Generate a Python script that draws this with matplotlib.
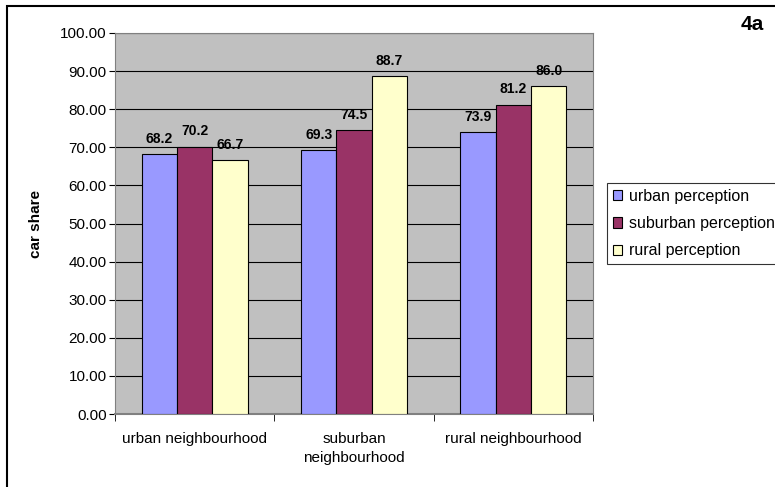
import matplotlib
matplotlib.use('Agg')
import numpy as np
import matplotlib.pyplot as plt
from matplotlib.patches import Rectangle

plt.rcParams['font.family'] = ['Liberation Sans', 'DejaVu Sans']

categories = ['urban neighbourhood', 'suburban\nneighbourhood', 'rural neighbourhood']
series_names = ['urban perception', 'suburban perception', 'rural perception']
urban_perc = [68.2, 69.3, 73.9]
suburban_perc = [70.2, 74.5, 81.2]
rural_perc = [66.7, 88.7, 86.0]
colors = ['#9999FF', '#993366', '#FFFFCC']

fig = plt.figure(figsize=(7.75, 4.87), dpi=100)
ax = fig.add_axes([115/775, 1 - 414/487, (593 - 115)/775, (414 - 33)/487])

# outer chart frame (runs off the right and bottom edges)
fig.patches.append(Rectangle((7/775, -0.1), 1.2, 1 - 6/487 + 0.1,
                             transform=fig.transFigure, fill=False,
                             edgecolor='black', linewidth=1.5))

x = np.arange(len(categories))
w = 0.222
for i, (vals, name, c) in enumerate(zip([urban_perc, suburban_perc, rural_perc],
                                        series_names, colors)):
    bars = ax.bar(x + (i - 1)*w, vals, w, color=c, edgecolor='black',
                  linewidth=0.8, label=name, zorder=3)
    for b, v in zip(bars, vals):
        ax.annotate('%.1f' % v, (b.get_x() + b.get_width()/2, v),
                    xytext=(0, 6), textcoords='offset points',
                    ha='center', va='bottom', fontsize=10, fontweight='bold')

ax.set_facecolor('#C0C0C0')
ax.set_xlim(-0.5, 2.5)
ax.set_ylim(0, 100)
ax.set_yticks(np.arange(0, 101, 10))
ax.set_yticklabels(['%.2f' % t for t in np.arange(0, 101, 10)], fontsize=11)
ax.yaxis.grid(True, color='black', linewidth=0.8, zorder=0)
ax.set_axisbelow(True)

ax.set_xticks(x)
ax.set_xticklabels(categories, fontsize=11, linespacing=1.45)
ax.tick_params(axis='x', length=0, pad=13)
ax.set_xticks(np.arange(-0.5, 3, 1), minor=True)
ax.tick_params(axis='x', which='minor', length=5, direction='out')
ax.tick_params(axis='y', length=4, direction='out', pad=2)

for s in ['top', 'right', 'left', 'bottom']:
    ax.spines[s].set_color('#808080')
ax.spines['bottom'].set_linewidth(1.5)

ax.set_ylabel('car share', fontsize=11, fontweight='bold', labelpad=12)

fig.text(752/775, 1 - 25/487, '4a', fontsize=15, fontweight='bold',
         ha='center', va='center')

leg = ax.legend(loc='center left', bbox_to_anchor=(607/775, 1 - 223.5/487),
                bbox_transform=fig.transFigure, fontsize=11.5, frameon=True,
                fancybox=False, edgecolor='black', handlelength=0.62,
                handleheight=0.62, handletextpad=0.4, labelspacing=0.78,
                borderaxespad=0, borderpad=0.35)
leg.get_frame().set_linewidth(0.8)

fig.savefig('out.png', dpi=100)
